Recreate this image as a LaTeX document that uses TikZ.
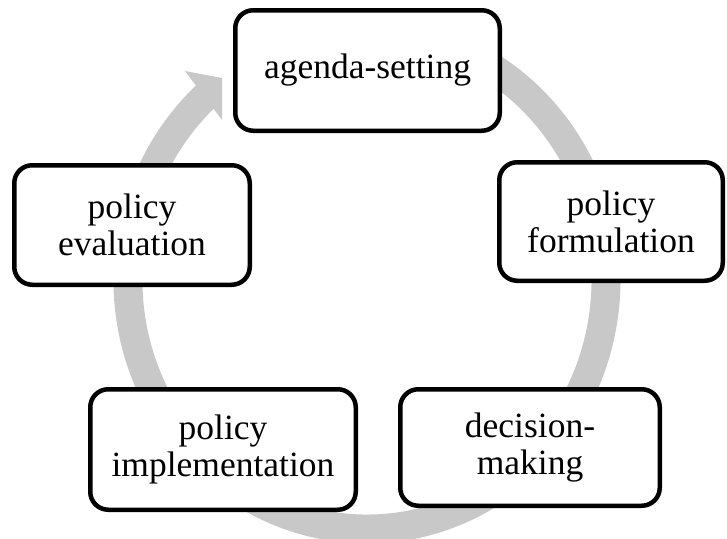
\documentclass[tikz,border=0pt]{standalone}
\usepackage{fontspec}
\setmainfont{Liberation Serif}
\begin{document}
\definecolor{ringgray}{RGB}{200,200,200}
\begin{tikzpicture}[x=1pt,y=-1pt,
  stage/.style={draw=black, fill=white, line width=4.5pt, rounded corners=18pt,
    align=center, inner sep=0pt,
    font=\fontsize{35.5}{37}\selectfont},
  ring/.style={draw=ringgray, line width=29pt}]
  \useasboundingbox (0,0) rectangle (727,538);

  % cycle ring running clockwise, with its head pointing at the first stage
  \draw[ring] (367,280) ++(-80:239 and 249)
    arc[start angle=-80, end angle=228.5, x radius=239, y radius=249];
  \fill[ringgray] (185,71) -- (222,78) -- (222,120) -- cycle;

  % the five stages of the cycle
  \node[stage, minimum width=264.5pt, minimum height=120.5pt] (agenda) at (367.5,70.5) {\raisebox{-4pt}{agenda-setting}};
  \node[stage, minimum width=223.5pt, minimum height=118.5pt] (formulation) at (611,221.5) {policy\\formulation};
  \node[stage, minimum width=259.5pt, minimum height=116.5pt] (decision) at (530,447.5) {decision-\\making};
  \node[stage, minimum width=265.5pt, minimum height=120.5pt] (implementation) at (223,449.5) {policy\\implementation};
  \node[stage, minimum width=235.5pt, minimum height=119.5pt] (evaluation) at (132,225) {policy\\evaluation};
\end{tikzpicture}
\end{document}
